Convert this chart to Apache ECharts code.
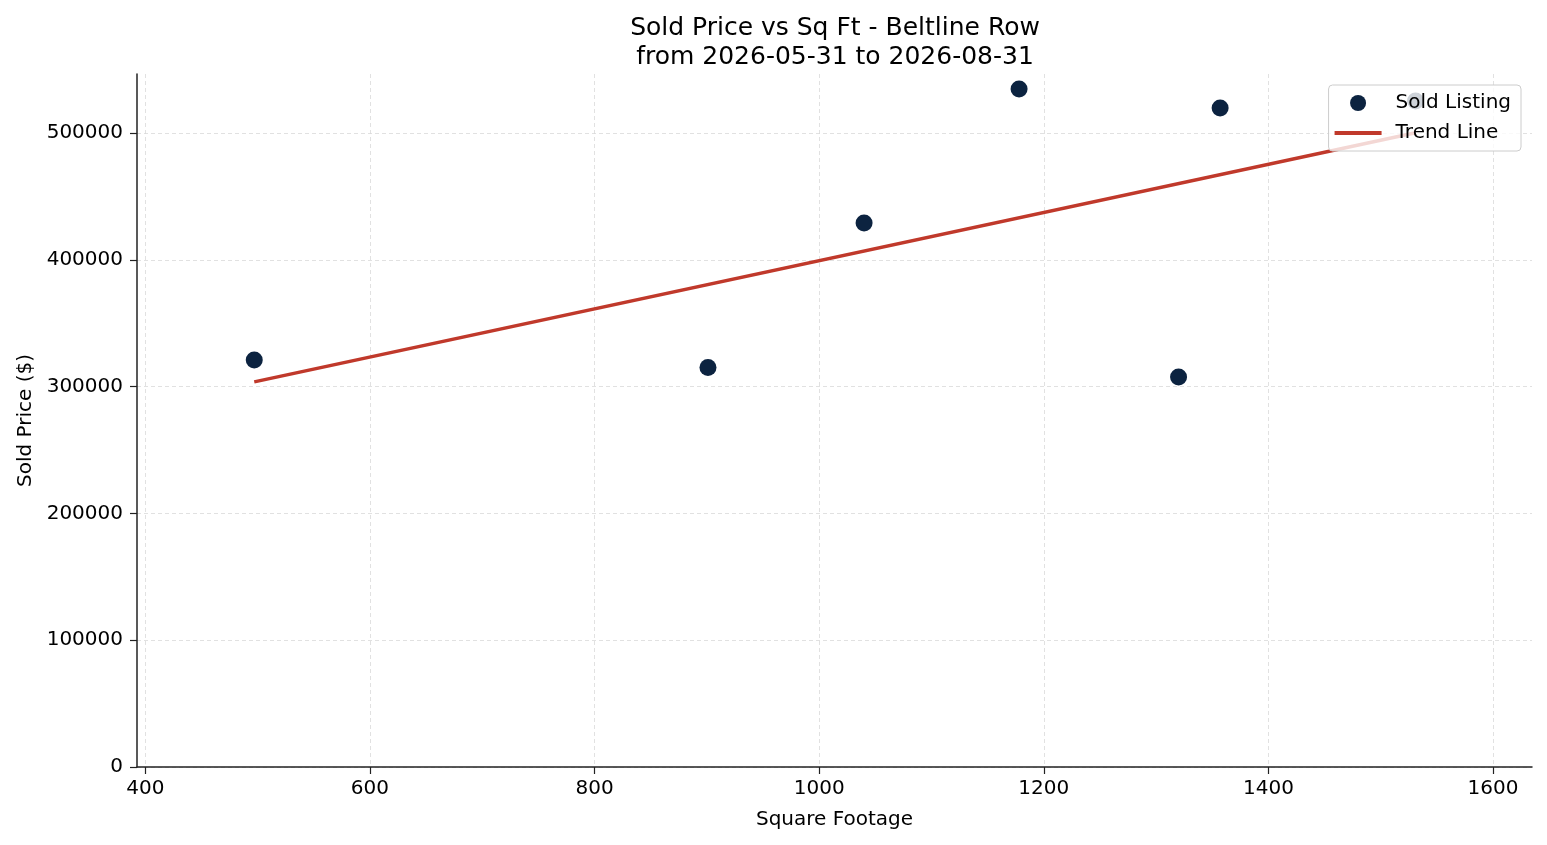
<!DOCTYPE html>
<html>
<head>
<meta charset="utf-8">
<script src="https://cdn.jsdelivr.net/npm/echarts@6/dist/echarts.min.js"></script>
<style>
  html, body { margin: 0; padding: 0; background: #fff; }
  #chart { width: 1547px; height: 845px; }
</style>
</head>
<body>
<div id="chart"></div>
<script>
// sold listings
const sqft = [497, 901, 1040, 1178, 1320, 1357, 1531]
const soldPrice = [321000, 315000, 429000, 534700, 307600, 519700, 525200]

// trend line end points
const trendX = [497, 1531]
const trendY = [303700, 500200]

const xTicks = [400, 600, 800, 1000, 1200, 1400, 1600]
const yTicks = [0, 100000, 200000, 300000, 400000, 500000]

const font = 'DejaVu Sans'
const chart = echarts.init(document.getElementById('chart'))

const gridLine = { show: true, lineStyle: { color: '#d9d9d9', type: [4, 3], width: 0.8 } }
const plain = v => String(v)

const option = {
  animation: false,
  textStyle: { fontFamily: font },
  title: {
    text: 'Sold Price vs Sq Ft - Beltline Row\nfrom 2026-05-31 to 2026-08-31',
    left: 830,
    top: 9,
    textAlign: 'center',
    textStyle: { fontFamily: font, fontSize: 25, fontWeight: 'normal', color: '#000', lineHeight: 29 }
  },
  legend: {
    orient: 'vertical',
    right: 26,
    top: 85,
    padding: [8, 10, 8, 6],
    itemGap: 10,
    itemWidth: 47,
    itemHeight: 16,
    backgroundColor: 'rgba(255,255,255,0.8)',
    borderColor: '#cccccc',
    borderWidth: 1,
    borderRadius: 4,
    textStyle: { fontFamily: font, fontSize: 20, color: '#000', padding: [0, 0, 0, 9] },
    data: [
      { name: 'Sold Listing', icon: 'circle' },
      { name: 'Trend Line', icon: 'path://M0,0L47,0L47,4L0,4Z' }
    ]
  },
  grid: { left: 137, right: 15, top: 74, bottom: 78, containLabel: false },
  xAxis: {
    type: 'value',
    min: 392.6,
    max: 1634.7,
    name: 'Square Footage',
    nameLocation: 'middle',
    nameGap: 43,
    nameTextStyle: { fontFamily: font, fontSize: 20, color: '#000' },
    axisLine: { show: true, onZero: false, lineStyle: { color: '#222', width: 1.5 } },
    axisTick: { show: true, length: 7, customValues: xTicks, lineStyle: { color: '#222', width: 1.2 } },
    axisLabel: { customValues: xTicks, formatter: plain, fontFamily: font, fontSize: 20, color: '#000', margin: 12 },
    splitLine: gridLine
  },
  yAxis: {
    type: 'value',
    min: 0,
    max: 546500,
    name: 'Sold Price ($)',
    nameLocation: 'middle',
    nameGap: 101,
    nameTextStyle: { fontFamily: font, fontSize: 20, color: '#000' },
    axisLine: { show: true, onZero: false, lineStyle: { color: '#222', width: 1.5 } },
    axisTick: { show: true, length: 7, customValues: yTicks, lineStyle: { color: '#222', width: 1.2 } },
    axisLabel: { customValues: yTicks, formatter: plain, fontFamily: font, fontSize: 20, color: '#000', margin: 14 },
    splitLine: gridLine
  },
  series: [
    {
      name: 'Sold Listing',
      type: 'scatter',
      symbolSize: 17,
      itemStyle: { color: '#0c2340', opacity: 1 },
      data: sqft.map((x, i) => [x, soldPrice[i]]),
      z: 3
    },
    {
      name: 'Trend Line',
      type: 'line',
      symbol: 'none',
      lineStyle: { color: '#c0392b', width: 3.5 },
      itemStyle: { color: '#c0392b' },
      data: trendX.map((x, i) => [x, trendY[i]]),
      z: 2
    }
  ]
}

chart.setOption(option)
</script>
</body>
</html>
